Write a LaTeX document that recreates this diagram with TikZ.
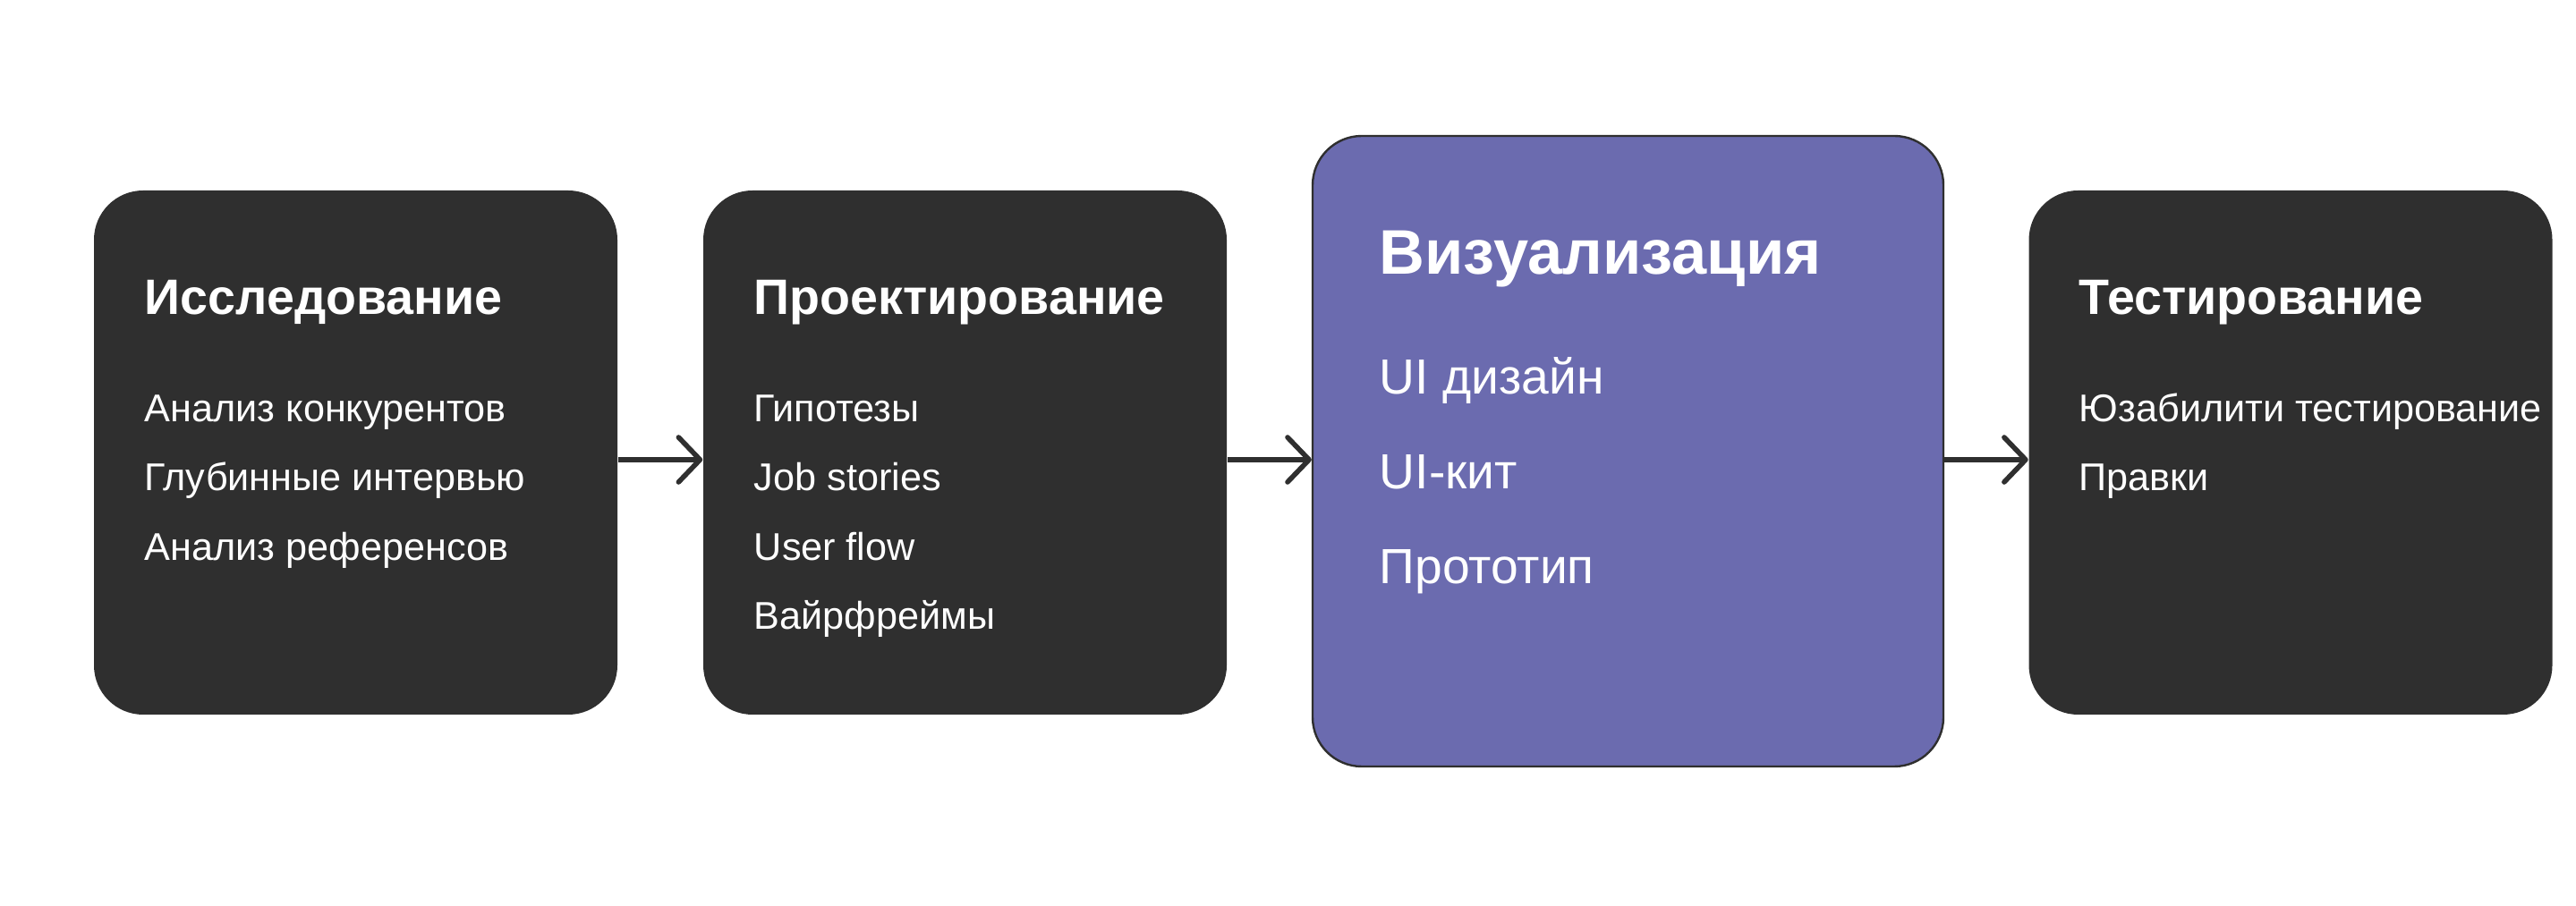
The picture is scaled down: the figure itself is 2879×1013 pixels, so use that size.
\documentclass[tikz,border=0pt]{standalone}
\usepackage{fontspec}
\setmainfont{Liberation Sans}
\usetikzlibrary{arrows.meta}
\definecolor{dark}{HTML}{2F2F2F}
\definecolor{lilac}{HTML}{6B6BAF}

\begin{document}
\begin{tikzpicture}[x=0.25pt,y=-0.25pt]
 \tikzset{stage/.style = {shape=rectangle,rounded corners=13.75pt,fill=dark,minimum width=146.25pt,minimum height=146.5pt,inner sep=0pt}}
 \tikzset{head/.style = {anchor=base west,inner sep=0pt,text=white,font=\fontsize{13.9}{17}\selectfont\bfseries}}
 \tikzset{item/.style = {anchor=base west,inner sep=0pt,text=white,font=\fontsize{10.8}{13}\selectfont}}
 \tikzset{edge/.style = {-{Straight Barb[length=6pt,width=12.5pt,round]},line width=1.4pt,draw=dark}}
 \useasboundingbox (0,0) rectangle (2879,1013);
 \node[stage] (a) at (397.5,506) {};
 \node[stage] (b) at (1078.5,506) {};
 \node[stage,fill=lilac,draw=dark,line width=0.6pt,minimum width=176.25pt,minimum height=176.25pt] (c) at (1819.5,504.5) {};
 \node[stage] (d) at (2560,506) {};

 \node[head] (a0) at (161,352) {Исследование};
 \node[item] (a1) at (161,472) {Анализ конкурентов};
 \node[item] (a2) at (161,549) {Глубинные интервью};
 \node[item] (a3) at (161,627) {Анализ референсов};

 \node[head] (b0) at (842,352) {Проектирование};
 \node[item] (b1) at (842,472) {Гипотезы};
 \node[item] (b2) at (842,549) {Job stories};
 \node[item] (b3) at (842,627) {User flow};
 \node[item] (b4) at (842,704) {Вайрфреймы};

 \node[head,font=\fontsize{17.6}{21}\selectfont\bfseries] (c0) at (1541,307) {Визуализация};
 \node[item,font=\fontsize{13.8}{16}\selectfont] (c1) at (1541,441) {UI дизайн};
 \node[item,font=\fontsize{13.8}{16}\selectfont] (c2) at (1541,547) {UI-кит};
 \node[item,font=\fontsize{13.8}{16}\selectfont] (c3) at (1541,653) {Прототип};

 \node[head] (d0) at (2323,352) {Тестирование};
 \node[item] (d1) at (2323,472) {Юзабилити тестирование};
 \node[item] (d2) at (2323,549) {Правки};

 \draw[edge] ([yshift=-2pt]a.east) -- ([yshift=-2pt]b.west);
 \draw[edge] ([yshift=-2pt]b.east) -- ([yshift=-2pt]b.east -| c.west);
 \draw[edge] ([yshift=-2pt]d.west -| c.east) -- ([yshift=-2pt]d.west);

 \end{tikzpicture}
\end{document}
